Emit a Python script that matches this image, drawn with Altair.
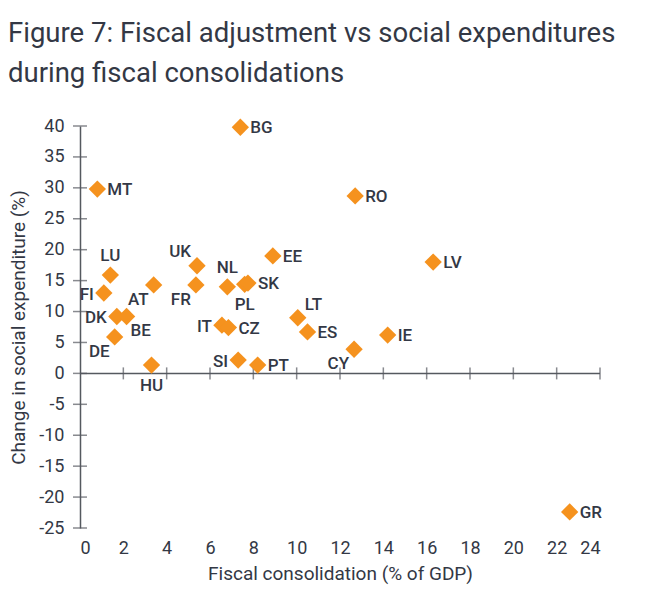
import altair as alt
import pandas as pd

countries = ["BG", "MT", "RO", "LV", "EE", "UK", "LU", "FR", "AT", "NL", "PL", "SK", "FI",
             "DK", "BE", "DE", "HU", "IT", "CZ", "SI", "PT", "LT", "ES", "CY", "IE", "GR"]
consolidation = [7.4, 0.8, 12.7, 16.3, 8.9, 5.4, 1.4, 5.35, 3.4, 6.8, 7.6, 7.75, 1.1,
                 1.7, 2.15, 1.6, 3.3, 6.55, 6.85, 7.3, 8.2, 10.05, 10.5, 12.65, 14.2, 22.6]
social_change = [39.8, 29.8, 28.7, 18.0, 19.0, 17.4, 15.9, 14.3, 14.3, 14.0, 14.4, 14.6, 13.0,
                 9.2, 9.2, 5.9, 1.35, 7.8, 7.4, 2.15, 1.35, 9.0, 6.7, 3.9, 6.2, -22.4]
label_side = ["r", "r", "r", "r", "r", "tl", "t", "bl", "bl", "t", "b", "r", "l",
              "l", "br", "bl", "b", "l", "r", "l", "r", "tr", "r", "bl", "r", "r"]
x_ticks = list(range(0, 25, 2))
y_ticks = list(range(-25, 41, 5))

df = pd.DataFrame({"country": countries, "x": consolidation, "y": social_change, "side": label_side})
xt = pd.DataFrame({"x": x_ticks[1:], "y": [0] * (len(x_ticks) - 1)})
yt = pd.DataFrame({"y": y_ticks, "x": [0] * len(y_ticks)})
zero_line = pd.DataFrame({"x": [x_ticks[0]], "x2": [x_ticks[-1]], "y": [0]})

ORANGE = "#f5921e"
TEXT = "#333845"
AXIS = "#55595f"
FONT = "Roboto"

xscale = alt.Scale(domain=[0, 24], nice=False, zero=False)
yscale = alt.Scale(domain=[-25, 40], nice=False, zero=False)

xaxis = alt.Axis(title="Fiscal consolidation (% of GDP)", values=x_ticks, domain=False,
                 ticks=False, grid=False, labelPadding=11, labelFontSize=18,
                 labelColor=TEXT, titleColor=TEXT, titleFontSize=19, titleFontWeight="normal",
                 titlePadding=7, labelFont=FONT, titleFont=FONT, labelOverlap=False,
                 labelExpr="datum.value + ''")
yaxis = alt.Axis(title="Change in social expenditure (%)", values=y_ticks, domain=True,
                 domainColor=AXIS, domainWidth=1.5, ticks=False, grid=False,
                 labelPadding=16, labelFontSize=18, labelColor=TEXT, titleColor=TEXT,
                 titleFontSize=19, titleFontWeight="normal", titlePadding=10,
                 labelFont=FONT, titleFont=FONT, labelOverlap=False,
                 labelExpr="datum.value + ''")


def X():
    return alt.X("x:Q", scale=xscale, axis=xaxis)


def Y():
    return alt.Y("y:Q", scale=yscale, axis=yaxis)


base = alt.Chart(df)

points = base.mark_point(shape="diamond", filled=True, size=300, color=ORANGE, opacity=1).encode(
    x=X(), y=Y())

offsets = {
    "r": (10, 1, "left"),
    "l": (-10, 2, "right"),
    "t": (0, -19, "center"),
    "b": (0, 21, "center"),
    "tl": (-6, -14, "right"),
    "bl": (-5, 15, "right"),
    "br": (4, 15, "left"),
    "tr": (7, -13, "left"),
}

text_layers = []
for side, (dx, dy, align) in offsets.items():
    t = base.transform_filter(alt.datum.side == side).mark_text(
        dx=dx, dy=dy, align=align, baseline="middle", fontSize=17, font=FONT, color=TEXT,
        fontWeight=500
    ).encode(x=X(), y=Y(), text="country:N")
    text_layers.append(t)

zline = alt.Chart(zero_line).mark_rule(color=AXIS, strokeWidth=1.5).encode(
    x=X(), x2="x2:Q", y=Y())
xtick_marks = alt.Chart(xt).mark_tick(orient="vertical", size=12, thickness=1.5, color=AXIS).encode(
    x=X(), y=Y())
ytick_marks = alt.Chart(yt).mark_tick(orient="horizontal", size=14, thickness=1.5, color=AXIS).encode(
    x=X(), y=Y())

chart = alt.layer(zline, xtick_marks, ytick_marks, points, *text_layers).properties(
    width=520,
    height=402,
    background="white",
    padding={"left": 72, "top": 118, "right": 49, "bottom": 66},
    autosize=alt.AutoSizeParams(type="none"),
    title=alt.TitleParams(
        text=["Figure 7: Fiscal adjustment vs social expenditures", "during fiscal consolidations"],
        anchor="start", frame="group", fontSize=27.5, font=FONT, fontWeight="normal", color=TEXT,
        lineHeight=40, dx=-72, offset=30,
    ),
).configure_view(strokeWidth=0, stroke="transparent").configure_axis(labelOverlap=False)

chart.save("out.html", embed_options={"renderer": "svg", "actions": False})
